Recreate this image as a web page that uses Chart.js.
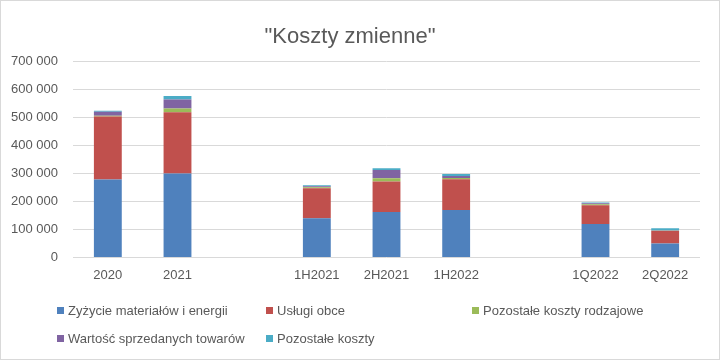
<!DOCTYPE html>
<html>
<head>
<meta charset="utf-8">
<script src="https://cdn.jsdelivr.net/npm/chart.js"></script>
<style>
  body {
    margin: 0;
    padding: 0;
    background: #fff;
  }
  .container {
    position: relative;
    width: 718px;
    height: 358px;
    border: 1px solid #d9d9d9;
    background: #fff;
  }
  #chart {
    position: absolute;
    left: -1px;
    top: -1px;
  }
  .legend {
    position: absolute;
    left: 56px;
    top: 300px;
    width: 640px;
    display: grid;
    grid-template-columns: 209px 206px 220px;
    row-gap: 10px;
    font-family: "Liberation Sans", Arial, sans-serif;
    font-size: 13px;
    color: #595959;
  }
  .legend div {
    display: flex;
    align-items: center;
    height: 18px;
    white-space: nowrap;
  }
  .legend span.box {
    display: inline-block;
    width: 7px;
    height: 7px;
    margin-right: 4px;
  }
</style>
</head>
<body>
<div class="container">
  <canvas id="chart" width="720" height="360"></canvas>
  <div class="legend" id="legend"></div>
</div>
<script>
// data (empty labels are the gaps between groups)
const categories = ['2020', '2021', '', '1H2021', '2H2021', '1H2022', ' ', '1Q2022', '2Q2022'];
const seriesNames = [
  'Zyżycie materiałów i energii',
  'Usługi obce',
  'Pozostałe koszty rodzajowe',
  'Wartość sprzedanych towarów',
  'Pozostałe koszty'
];
const colors = ['#4F81BD', '#C0504D', '#9BBB59', '#8064A2', '#4BACC6'];

const materials = [278000, 300000, null, 140000, 162000, 169000, null, 119000, 50000];
const services  = [225000, 218000, null, 107000, 109000, 110000, null, 67000, 44000];
const otherKinds = [3000, 14000, null, 3500, 12000, 5000, null, 4000, 1000];
const goodsSold = [14000, 32000, null, 4000, 29000, 7000, null, 3000, 2000];
const otherCosts = [4000, 12000, null, 3000, 6000, 7000, null, 3000, 7000];

const yTicks = [0, 100000, 200000, 300000, 400000, 500000, 600000, 700000];

const seriesValues = [materials, services, otherKinds, goodsSold, otherCosts];

const formatNumber = v => String(v).replace(/\B(?=(\d{3})+(?!\d))/g, ' ');

const ctx = document.getElementById('chart').getContext('2d');
const chart = new Chart(ctx, {
  type: 'bar',
  data: {
    labels: categories,
    datasets: seriesNames.map((name, i) => ({
      label: name,
      data: seriesValues[i],
      backgroundColor: colors[i],
      borderWidth: 0,
      barPercentage: 0.4,
      categoryPercentage: 1
    }))
  },
  options: {
    responsive: false,
    animation: false,
    layout: {
      padding: { left: 0, right: 20, top: 0, bottom: 67 }
    },
    plugins: {
      legend: { display: false },
      tooltip: { enabled: false },
      title: {
        display: true,
        text: '"Koszty zmienne"',
        color: '#595959',
        font: { family: '"Liberation Sans Narrow", "Liberation Sans", Arial, sans-serif', size: 22, weight: 'normal' },
        padding: { top: 24, bottom: 11 }
      }
    },
    scales: {
      x: {
        stacked: true,
        grid: { display: false, drawTicks: false },
        border: { display: false },
        ticks: {
          color: '#595959',
          padding: 10,
          maxRotation: 0,
          autoSkip: false,
          font: { family: '"Liberation Sans", Arial, sans-serif', size: 13 }
        }
      },
      y: {
        stacked: true,
        min: yTicks[0],
        max: yTicks[yTicks.length - 1],
        afterBuildTicks: scale => {
          scale.ticks = yTicks.map(v => ({ value: v }));
        },
        afterFit: scale => {
          scale.width = 73;
        },
        grid: { color: '#d9d9d9', drawTicks: false },
        border: { display: false },
        ticks: {
          color: '#595959',
          padding: 15,
          font: { family: '"Liberation Sans", Arial, sans-serif', size: 13 },
          callback: v => formatNumber(v)
        }
      }
    }
  }
});

// legend laid out in columns like the original
const legendEl = document.getElementById('legend');
seriesNames.forEach((name, i) => {
  const item = document.createElement('div');
  const box = document.createElement('span');
  box.className = 'box';
  box.style.background = colors[i];
  item.appendChild(box);
  item.appendChild(document.createTextNode(name));
  legendEl.appendChild(item);
});
</script>
</body>
</html>
